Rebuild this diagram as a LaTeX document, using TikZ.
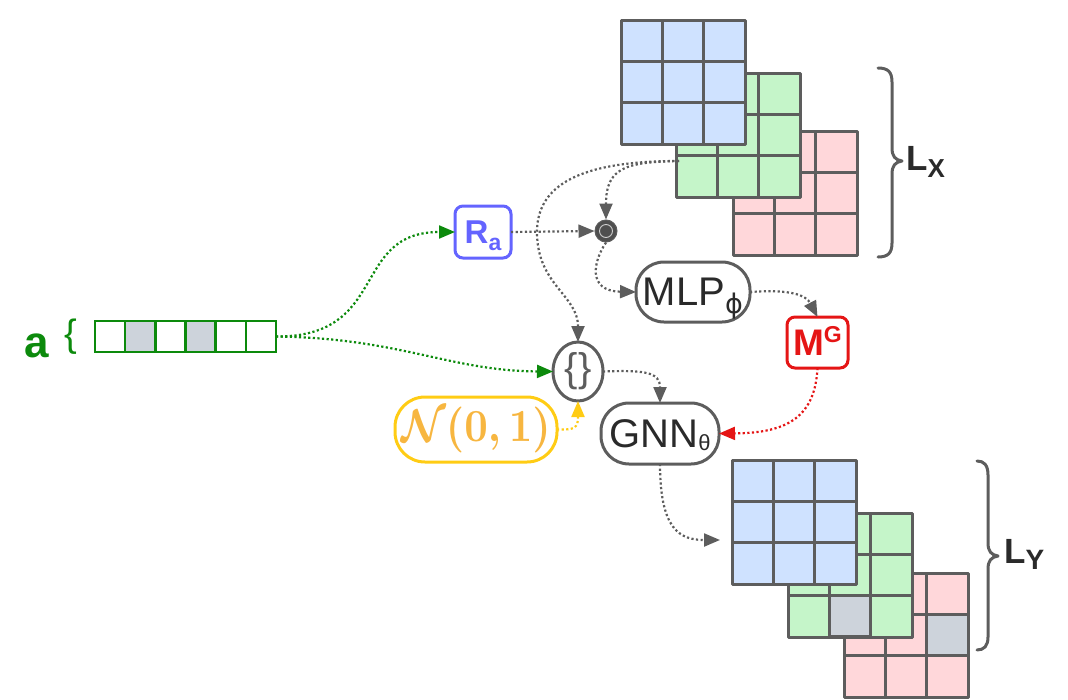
\documentclass[tikz,border=0pt]{standalone}
\usepackage{amsmath}
\usepackage[no-math]{fontspec}
\setmainfont{Liberation Sans}
\newfontfamily\greekface{DejaVu Sans}
\usetikzlibrary{arrows.meta,calc,shapes.geometric}

\newcommand\fsz[1]{\fontsize{#1}{#1}\selectfont}

\definecolor{ink}{HTML}{5D5D5D}
\definecolor{txt}{HTML}{2A2A2A}
\definecolor{cblue}{HTML}{CFE2FF}
\definecolor{cgreen}{HTML}{C5F5C9}
\definecolor{cpink}{HTML}{FFD7DA}
\definecolor{cgray}{HTML}{CDD3DB}
\definecolor{agreen}{HTML}{0C8A0C}
\definecolor{rblue}{HTML}{6464FF}
\definecolor{mred}{HTML}{E51515}
\definecolor{ny}{HTML}{FFCC14}
\definecolor{nytext}{HTML}{F7B640}

\tikzset{
  gridsq/.style={minimum size=124pt, inner sep=0pt, outer sep=0pt},
  gridln/.style={draw=ink, line width=3pt, line join=round},
  vecln/.style={draw=agreen, line width=2.5pt},
  tagbox/.style={rounded corners=8pt, line width=3pt, inner sep=0pt, outer sep=0pt},
  pill/.style={draw=ink, rounded corners=28pt, line width=3pt, inner sep=0pt, outer sep=0pt, text=txt},
  flow/.style={line width=2.2pt, dash pattern=on 2.2pt off 2.4pt,
    -{Triangle[length=16pt,width=13pt]}},
  bracepath/.style={draw=ink, line width=3pt, line cap=round, line join=round},
}

% a 3x3 grid of cells: name, left, top, fill colour
\newcommand\cellgrid[4]{%
  \node[gridsq, fill=#4, anchor=north west] (#1) at (#2,#3) {};
  \foreach \gi in {1,2}{%
    \draw[gridln] ($(#1.north west)+(\gi*41.33,0)$) -- ($(#1.south west)+(\gi*41.33,0)$);
    \draw[gridln] ($(#1.north west)+(0,\gi*41.33)$) -- ($(#1.north east)+(0,\gi*41.33)$);
  }%
  \draw[gridln] (#1.north west) rectangle (#1.south east);
}
% a grey cell inside a grid: grid, column, row
\newcommand\graycell[3]{%
  \filldraw[fill=cgray, gridln] ($(#1.north west)+(#2*41.33-41.33,#3*41.33-41.33)$) rectangle +(41.33,41.33);
}

\begin{document}
\begin{tikzpicture}[x=1pt,y=-1pt]
\useasboundingbox (0,0) rectangle (1068,699);

% input stack L_X
\cellgrid{LXp}{733}{131}{cpink}
\cellgrid{LXg}{676}{73}{cgreen}
\cellgrid{LXb}{621}{20}{cblue}

% output stack L_Y
\cellgrid{LYp}{844}{573}{cpink}
\graycell{LYp}{3}{2}
\cellgrid{LYg}{788}{513}{cgreen}
\graycell{LYg}{2}{3}
\cellgrid{LYb}{732}{460}{cblue}

% braces and labels
\draw[bracepath] (878,68) .. controls (888,68) and (892,72) .. (892,82) -- (892,148)
  .. controls (892,156) and (895,160) .. (902,161)
  .. controls (895,162) and (892,166) .. (892,174) -- (892,243)
  .. controls (892,253) and (888,257) .. (878,257);
\node[anchor=base west, inner sep=0pt, text=txt] (lx) at (906,170)
  {\fsz{35}\bfseries L\raisebox{-7pt}{\fsz{26}X}};

\draw[bracepath] (977,461) .. controls (984,461) and (988,465) .. (988,475) -- (988,543)
  .. controls (988,551) and (991,555) .. (998,556)
  .. controls (991,557) and (988,561) .. (988,569) -- (988,637)
  .. controls (988,646) and (984,650) .. (977,650);
\node[anchor=base west, inner sep=0pt, text=txt] (ly) at (1004,563)
  {\fsz{35}\bfseries L\raisebox{-6pt}{\fsz{28}Y}};

% attribute vector a
\node[text=agreen, anchor=base, inner sep=0pt] (alab) at (37,357) {\fsz{44}\bfseries a};
\node[text=agreen, inner sep=0pt] (abr) at (71,337) {\fsz{38}\{};
\node[anchor=north west, minimum width=181pt, minimum height=31pt, inner sep=0pt, outer sep=0pt] (vec) at (95,321) {};
\foreach \c in {2,4}{%
  \fill[cgray] ($(vec.north west)+(\c*30.17-30.17,0)$) rectangle +(30.17,31);
}
\foreach \c in {1,...,5}{%
  \draw[vecln] ($(vec.north west)+(\c*30.17,0)$) -- ($(vec.south west)+(\c*30.17,0)$);
}
\draw[vecln] (vec.north west) rectangle (vec.south east);

% operator nodes
\node[tagbox, draw=rblue, text=rblue, minimum width=56pt, minimum height=52pt] (Ra) at (483,232)
  {\fsz{33}\bfseries R\raisebox{-7pt}[0pt][0pt]{\fsz{23}a}};
\node[circle, fill=ink!85!black, draw=ink, line width=1pt, minimum size=22pt, inner sep=0pt] (dot) at (606,231) {};
\draw[white!70!ink, line width=0.9pt] (dot.center) circle (6.5);
\node[pill, minimum width=114pt, minimum height=60pt] (mlp) at (693,292)
  {\fsz{40}MLP\raisebox{-8pt}[0pt][0pt]{\greekface\fsz{27}ϕ}};
\node[tagbox, draw=mred, text=mred, minimum width=61pt, minimum height=51pt] (mg) at (817.5,342.5)
  {\fsz{37}\bfseries M\raisebox{13pt}[0pt][0pt]{\fsz{23}G}};
\node[ellipse, draw=ink, line width=3pt, minimum width=50pt, minimum height=59pt, inner sep=0pt, outer sep=0pt, text=ink] (set) at (578,371.5)
  {\fsz{40}\{\}};
\node[pill, draw=ny, rounded corners=30pt, minimum width=162pt, minimum height=65pt, text=nytext] (noise) at (476,429.5)
  {\scalebox{4.1}[4.6]{\boldmath$\mathcal{N}(0,1)$}};
\node[pill, minimum width=118pt, minimum height=61pt] (gnn) at (660,433.5)
  {\fsz{40}GNN\raisebox{-3pt}[0pt][0pt]{\fsz{22}θ}};

% connectors
\coordinate (src) at (679,161);
\draw[flow, agreen] (vec.east) .. controls (390,337) and (350,232) .. (Ra.west);
\draw[flow, agreen] (vec.east) .. controls (400,338) and (450,371) .. (set.west);
\draw[flow, ink] (Ra.east) -- (dot.west);
\draw[flow, ink] (src) .. controls (625,162) and (606,168) .. (dot.north);
\draw[flow, ink] (src) .. controls (590,161) and (537,180) .. (537,232)
  .. controls (537,285) and (578,295) .. (set.north);
\draw[flow, ink] (dot.south) .. controls (594,260) and (586,291) .. (mlp.west);
\draw[flow, ink] (mlp.east) .. controls (790,289) and (806,295) .. (mg.north);
\draw[flow, mred] (mg.south) .. controls (815,415) and (790,433) .. (gnn.east);
\draw[flow, ink] (set.east) .. controls (645,370) and (660,372) .. (gnn.north);
\draw[flow, ny] (noise.east) .. controls (575,430) and (578,428) .. (set.south);
\draw[flow, ink, shorten >=12pt] (gnn.south) .. controls (660,530) and (680,540) .. ($(LYb.north west)+(0,80)$);

\end{tikzpicture}
\end{document}
